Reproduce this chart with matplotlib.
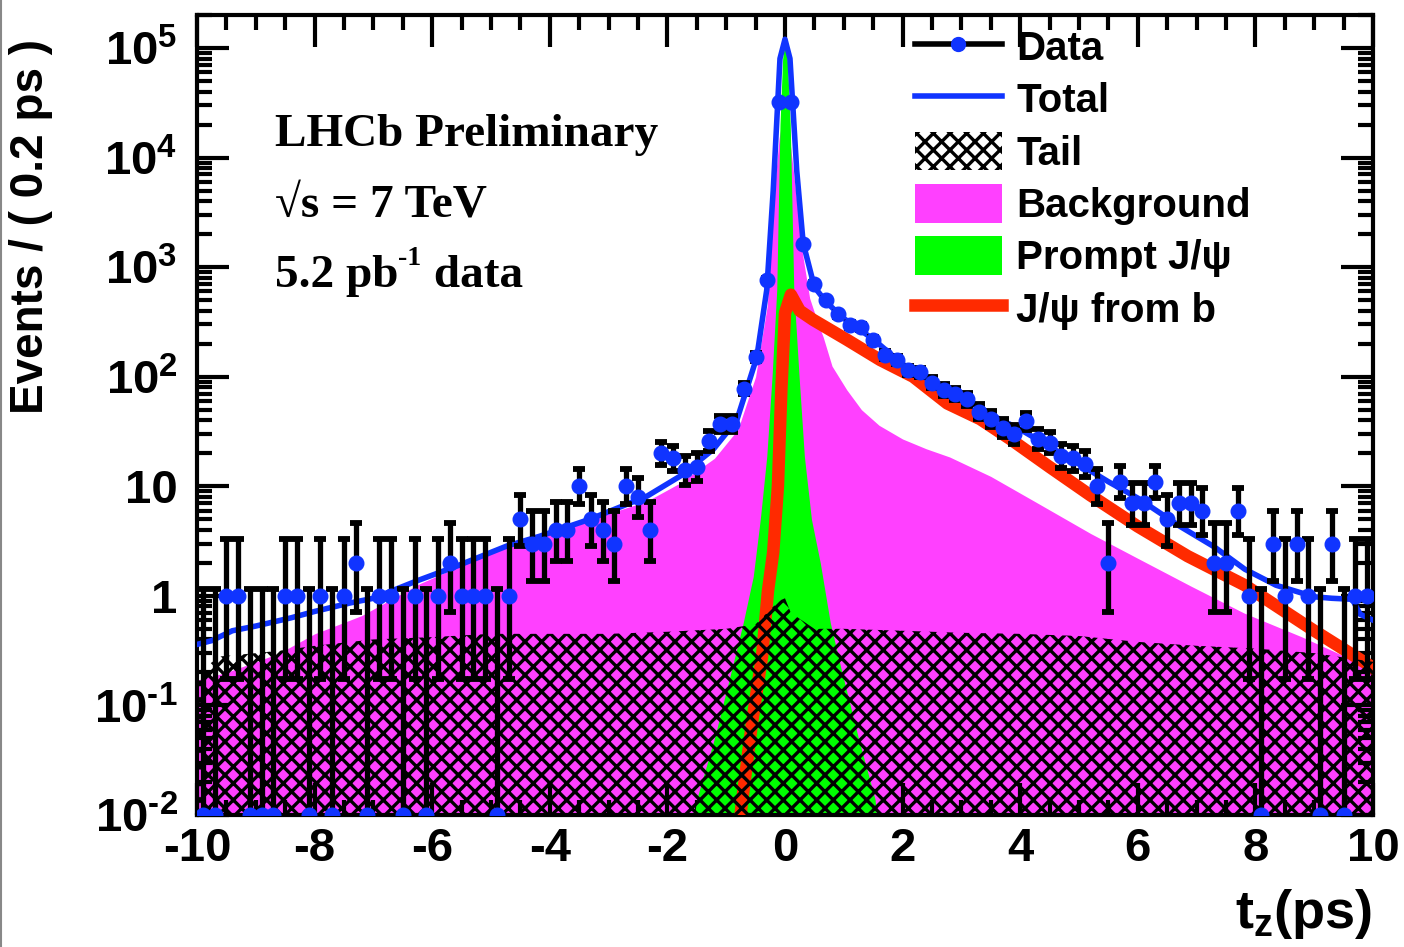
import matplotlib
matplotlib.use('Agg')
import matplotlib.pyplot as plt
import numpy as np
from matplotlib.patches import Patch
from matplotlib.lines import Line2D
from matplotlib.ticker import FixedLocator, FixedFormatter, LogLocator, NullFormatter, MultipleLocator

plt.rcParams['font.family'] = ['Liberation Sans', 'DejaVu Sans']
plt.rcParams['font.weight'] = 'bold'
plt.rcParams['mathtext.fontset'] = 'custom'
plt.rcParams['mathtext.rm'] = 'Liberation Sans:bold'
plt.rcParams['mathtext.it'] = 'Liberation Sans:bold'
plt.rcParams['mathtext.bf'] = 'Liberation Sans:bold'
plt.rcParams['axes.unicode_minus'] = False
plt.rcParams['hatch.linewidth'] = 2.4

BLUE = '#1034ff'
MAGENTA = '#ff40ff'
GREEN = '#00ff00'
RED = '#ff2a00'

# --- data: events per 0.2 ps bin, t_z from -10 to 10 ps ---
counts = [0, 0, 1, 1, 0, 0, 0, 1, 1, 0,
          1, 0, 1, 2, 0, 1, 1, 0, 1, 0,
          1, 2, 1, 1, 1, 0, 1, 5, 3, 3,
          4, 4, 10, 5, 4, 3, 10, 8, 4, 20,
          18, 14, 15, 26, 37, 37, 78, 152, 760, 32000,
          32000, 1620, 700, 500, 373, 297, 285, 217, 158, 143,
          115, 110, 88, 76, 70, 62, 48, 41, 34, 30,
          39, 27, 25, 19, 18, 16, 10, 2, 11, 7,
          7, 11, 5, 7, 7, 6, 2, 2, 6, 1,
          0, 3, 1, 3, 1, 0, 3, 0, 1, 1]
bin_centers = np.linspace(-9.9, 9.9, 100)

# --- fit components ---
total_x = [-10.0, -9.75, -9.4, -9.0, -8.4, -8.0, -7.4, -7.0, -6.26, -5.58, -4.73, -4.17,
           -3.32, -2.35, -1.79, -1.22, -0.82, -0.48, -0.31, -0.2, -0.085, 0.0, 0.085,
           0.2, 0.31, 0.5, 0.7, 1.0, 1.5, 2.0, 2.5, 3.0, 3.5, 4.0, 4.5, 5.0, 5.5, 6.0,
           6.72, 7.3, 7.82, 8.35, 9.0, 9.3, 9.65, 9.78, 10.0]
total_y = [0.36, 0.39, 0.48, 0.53, 0.63, 0.72, 0.86, 0.95, 1.37, 1.87, 2.85, 3.5,
           5.0, 8.1, 12.3, 21.7, 40, 150, 620, 5000, 8e4, 1.2e5, 8e4,
           7600, 1650, 660, 480, 340, 220, 130, 90, 66, 45, 33, 23, 16, 11, 7.8,
           4.3, 2.8, 1.75, 1.25, 0.98, 0.95, 0.93, 0.68, 0.6]

bkg_x = [-10.0, -9.5, -9.0, -8.6, -8.0, -7.2, -6.2, -5.5, -4.7, -4.0, -3.3, -2.35,
         -1.8, -1.2, -0.8, -0.5, -0.3, -0.2, -0.1, 0.0, 0.1, 0.2, 0.3, 0.42, 0.55, 0.65,
         0.8, 1.05, 1.3, 1.6, 2.0, 2.4, 2.8, 3.5, 4.3, 5.2, 6.0, 6.9, 7.8, 8.8, 9.4, 10.0]
bkg_y = [0.17, 0.2, 0.25, 0.3, 0.45, 0.66, 1.3, 1.9, 2.85, 3.7, 5.0, 7.3,
         10.6, 18, 33, 100, 450, 4000, 1.5e4, 3e4, 1.2e4, 4000, 1300, 520, 320, 230,
         125, 76, 50, 36, 27, 22, 18.5, 12.3, 7, 3.7, 2.2, 1.23, 0.7, 0.42, 0.3, 0.2]

prompt_x = [-1.6, -1.5, -1.2, -0.9, -0.71, -0.54, -0.42, -0.31, -0.22, -0.14, -0.085,
            -0.04, 0.0, 0.04, 0.09, 0.15, 0.24, 0.33, 0.45, 0.6, 0.77, 0.95, 1.25, 1.53, 1.6]
prompt_y = [0.006, 0.014, 0.05, 0.22, 0.57, 1.5, 5, 18.7, 100, 620, 2e4,
            8e4, 1.15e5, 8e4, 2e4, 620, 100, 18.7, 5, 2.0, 0.57, 0.22, 0.05, 0.014, 0.006]

fromb_x = [-0.8, -0.74, -0.56, -0.39, -0.29, -0.2, -0.12, -0.06, 0.0, 0.1, 0.25, 0.48,
           1.05, 1.62, 2.18, 2.76, 3.32, 3.83, 4.5, 5.19, 6.0, 6.85, 7.82, 8.95, 9.95, 10.0]
fromb_y = [0.006, 0.012, 0.07, 0.28, 1.1, 2.5, 10, 80, 380, 560, 400, 330,
           218, 142, 100, 57, 41, 27, 15, 8.3, 4.3, 2.3, 1.25, 0.5, 0.23, 0.22]

tail_x = [-10.0, -9.6, -9.0, -8.5, -8.0, -7.0, -6.0, -5.0, -4.0, -3.0, -2.0, -1.0,
          -0.5, -0.1, 0.0, 0.1, 0.5, 1.0, 2.0, 3.0, 4.0, 5.0, 6.0, 7.0, 8.0, 9.0, 10.0]
tail_y = [0.2, 0.28, 0.3, 0.32, 0.35, 0.4, 0.42, 0.45, 0.45, 0.45, 0.47, 0.5,
          0.55, 0.9, 0.95, 0.7, 0.5, 0.5, 0.48, 0.46, 0.45, 0.43, 0.38, 0.35, 0.33, 0.3, 0.25]


def poisson_cdf(k, lam):
    ks = np.arange(k + 1)
    logfact = np.concatenate([[0.0], np.cumsum(np.log(np.arange(1, k + 1)))])
    return np.exp(-lam + ks * np.log(lam) - logfact).sum()


def solve(f, target, lo, hi):
    # f decreasing in lam
    for _ in range(80):
        mid = 0.5 * (lo + hi)
        if f(mid) > target:
            lo = mid
        else:
            hi = mid
    return 0.5 * (lo + hi)


def poisson_interval(n, cl=0.6827):
    a = (1 - cl) / 2
    lo = np.zeros(len(n))
    hi = np.zeros(len(n))
    for i, k in enumerate(n):
        if k == 0:
            hi[i] = 1.148
        elif k > 100:
            lo[i] = k - np.sqrt(k)
            hi[i] = k + np.sqrt(k)
        else:
            top = k + 10 * np.sqrt(k) + 10
            hi[i] = solve(lambda l: poisson_cdf(k, l), a, 1e-9, top)
            lo[i] = solve(lambda l: poisson_cdf(k - 1, l), 1 - a, 1e-9, top)
    return lo, hi


fig = plt.figure(figsize=(14.04, 9.47), dpi=100)
ax = fig.add_axes([0.1403, 0.1394, 0.8376, 0.8448])
ax.set_yscale('log')

ax.fill_between(bkg_x, 1e-3, bkg_y, color=MAGENTA, lw=0, zorder=1)
ax.fill_between(prompt_x, 1e-3, prompt_y, color=GREEN, lw=0, zorder=2)
ax.plot(fromb_x, fromb_y, color=RED, lw=9, zorder=3)
ax.fill_between(tail_x, 1e-3, tail_y, facecolor='none', edgecolor='black',
                hatch='xx', lw=0, zorder=4)
ax.plot(total_x, total_y, color=BLUE, lw=4, zorder=5)

n = np.array(counts)
plo, phi = poisson_interval(n)
ymin = 1e-2
yvals = np.where(n > 0, n, ymin)
err_lo = np.where(n > 0, n - plo, 0)
err_hi = np.where(n > 0, phi - n, 1.148 - ymin)
ax.errorbar(bin_centers, yvals, yerr=[err_lo, err_hi], fmt='o', ms=10.5,
            mfc=BLUE, mec=BLUE, ecolor='black', elinewidth=3.8, capsize=4.2,
            capthick=4.2, zorder=6)

ax.set_xlim(-10, 10)
ax.set_ylim(ymin, 2e5)

ax.xaxis.set_major_locator(MultipleLocator(2))
ax.xaxis.set_minor_locator(MultipleLocator(0.5))
ydec = [1e-2, 1e-1, 1, 10, 1e2, 1e3, 1e4, 1e5]
ylabels = ['10$^{\u2010 2}$', '10$^{\u2010 1}$', '1', '10', '10$^{2}$', '10$^{3}$',
           '10$^{4}$', '10$^{5}$']
ax.yaxis.set_major_locator(FixedLocator(ydec))
ax.yaxis.set_major_formatter(FixedFormatter(ylabels))
ax.yaxis.set_minor_locator(LogLocator(base=10, subs=np.arange(2, 10), numticks=20))
ax.yaxis.set_minor_formatter(NullFormatter())

ax.tick_params(which='both', direction='in', top=True, right=True, width=3)
ax.tick_params(which='major', length=23, labelsize=34)
ax.tick_params(which='minor', length=11)
ax.tick_params(axis='y', pad=14)
ax.tick_params(axis='x', pad=9)
for s in ax.spines.values():
    s.set_linewidth(3)

# legend
handles = [
    Line2D([], [], color='black', lw=4, marker='o', ms=10, mfc=BLUE, mec=BLUE),
    Line2D([], [], color=BLUE, lw=4),
    Patch(facecolor='white', edgecolor='black', hatch='xx', lw=0),
    Patch(facecolor=MAGENTA, lw=0),
    Patch(facecolor=GREEN, lw=0),
    Line2D([], [], color=RED, lw=9),
]
labels = ['Data', 'Total', 'Tail', 'Background', 'Prompt J/ψ', 'J/ψ from b']
ax.legend(handles, labels, loc='upper left', bbox_to_anchor=(915 / 1404, 1 - 27 / 947),
          bbox_transform=fig.transFigure, frameon=False, fontsize=29,
          handlelength=2.15, handleheight=1.1, handletextpad=0.37,
          labelspacing=0.28, borderpad=0, borderaxespad=0)

# labels
fig.text(31 / 1404, 1 - 227 / 947, 'Events / ( 0.2 ps )', rotation=90,
         ha='center', va='center', fontsize=33, weight='bold')
fig.text(1372 / 1404, 1 - 928 / 947, r'$t_{z}$(ps)', ha='right', va='baseline',
         fontsize=39, weight='bold')

serif = dict(family='Liberation Serif', weight='bold', fontsize=34)
fig.text(275 / 1404, 1 - 146 / 947, 'LHCb Preliminary', ha='left', va='baseline', **serif)
fig.text(275 / 1404, 1 - 216 / 947, '√s = 7 TeV', ha='left', va='baseline', **serif)
t1 = fig.text(275 / 1404, 1 - 287 / 947, '5.2 pb', ha='left', va='baseline', **serif)
sup = ax.annotate('-1', xy=(1.0, 0.62), xycoords=t1, ha='left', va='bottom',
                  family='Liberation Serif', weight='bold', fontsize=20)
ax.annotate(' data', xy=(1.0, 0.0), xycoords=(sup, t1), ha='left', va='bottom', **serif)

fig.add_artist(Line2D([0.001, 0.001], [0, 1], transform=fig.transFigure,
                      color='#888888', lw=1.5))

fig.savefig('out.png', dpi=100)
